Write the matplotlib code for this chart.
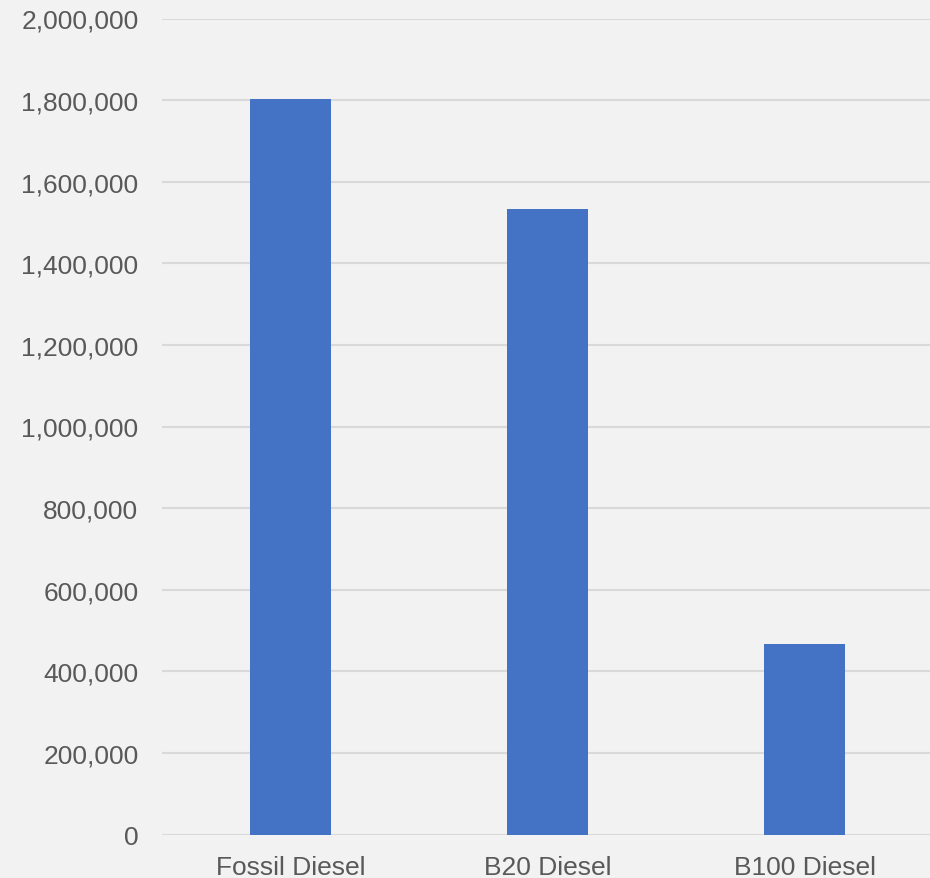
import matplotlib
matplotlib.use("Agg")
import matplotlib.pyplot as plt
from matplotlib.ticker import FuncFormatter, MultipleLocator

categories = ["Fossil Diesel", "B20 Diesel", "B100 Diesel"]
values = [1802000, 1532000, 468000]

plt.rcParams['font.family'] = ['Liberation Sans', 'DejaVu Sans']

fig = plt.figure(figsize=(9.30, 8.79), dpi=100)
fig.patch.set_facecolor('#F2F2F2')
ax = fig.add_axes([162/930, 43.5/879, 771/930, 816/879])
ax.set_facecolor('#F2F2F2')

x = list(range(len(categories)))
ax.bar(x, values, width=0.317, color='#4472C4', zorder=3)
ax.set_xlim(-0.5, 2.5)
ax.set_ylim(0, 2000000)
ax.yaxis.set_major_locator(MultipleLocator(200000))
ax.yaxis.set_major_formatter(FuncFormatter(lambda v, p: f"{int(v):,}"))
ax.set_xticks(x)
ax.set_xticklabels(categories)
ax.grid(axis='y', color='#D9D9D9', linewidth=1.5, zorder=0)
ax.grid(axis='x', visible=False)
for s in ax.spines.values():
    s.set_visible(False)
ax.tick_params(axis='both', length=0, labelsize=19, colors='#595959')
ax.tick_params(axis='y', pad=17)
ax.tick_params(axis='x', pad=15)

fig.savefig("out.png", dpi=100, facecolor=fig.get_facecolor())
